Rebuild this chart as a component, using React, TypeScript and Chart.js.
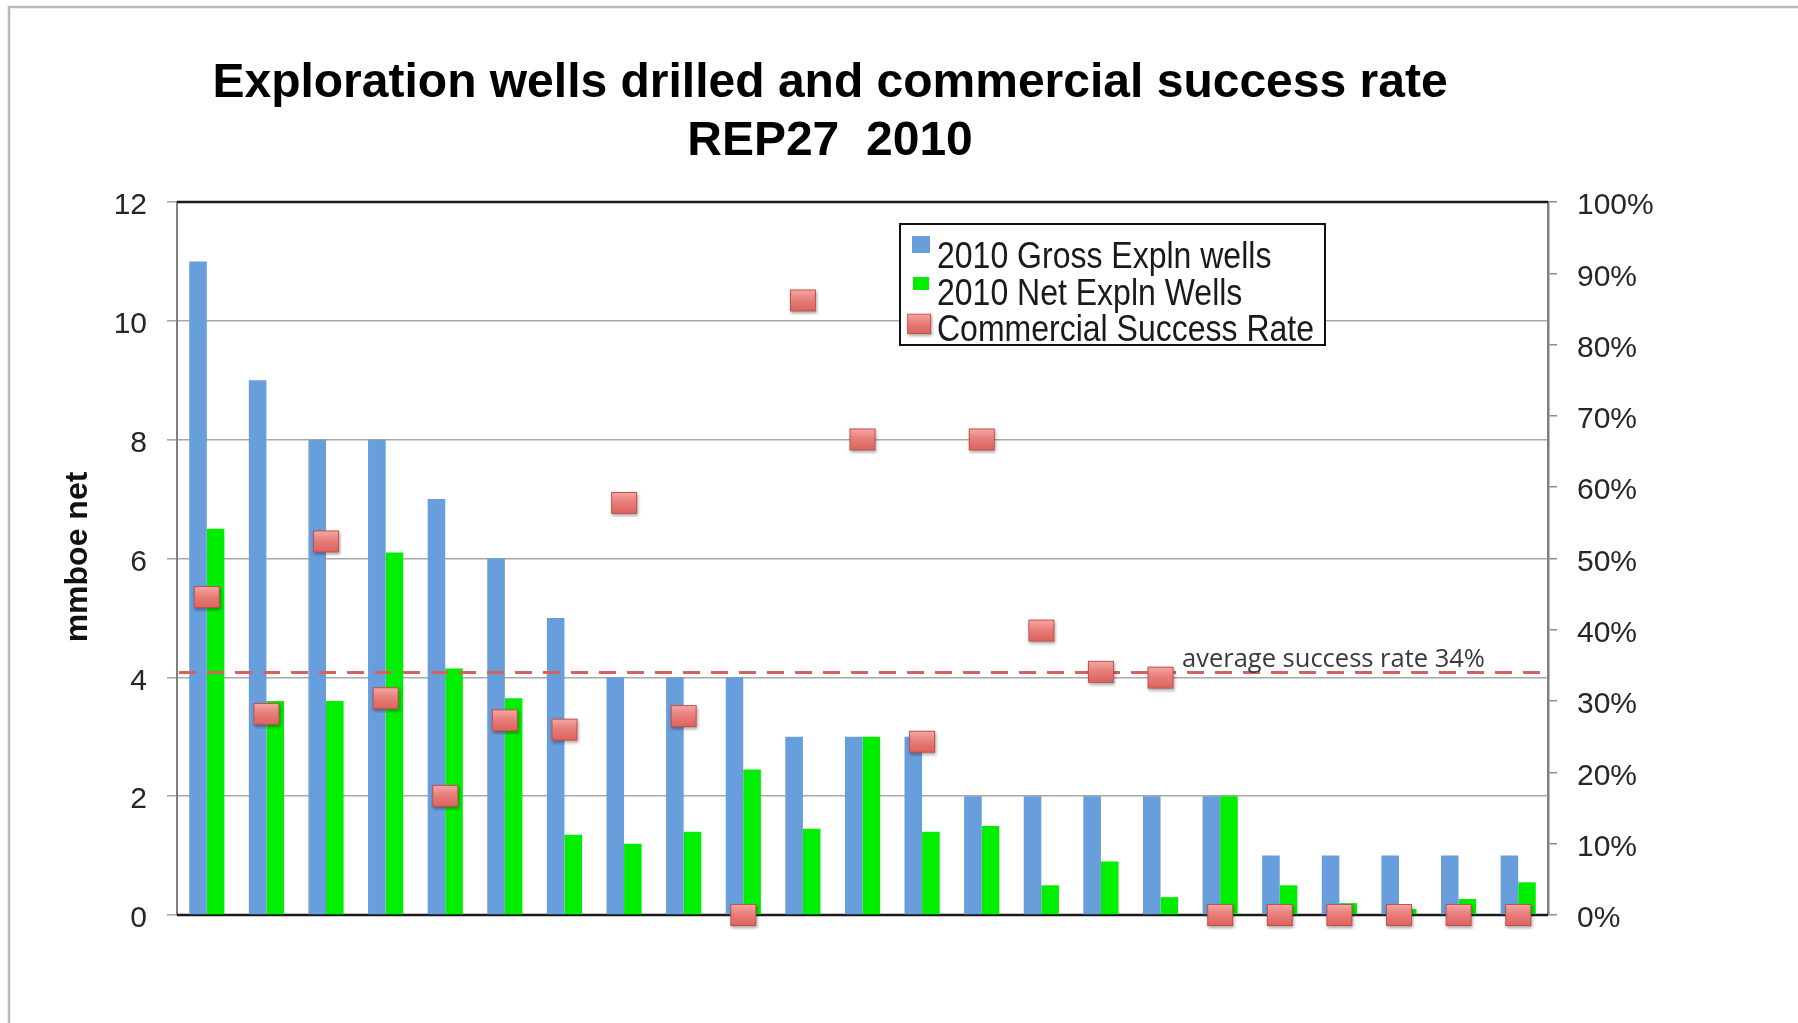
import React, { useEffect, useRef } from 'react';
import { Chart, registerables } from 'chart.js';

Chart.register(...registerables);

const TITLE_LINES = ['Exploration wells drilled and commercial success rate', 'REP27  2010'];
const Y_TITLE = 'mmboe net';
const SERIES_NAMES = ['2010 Gross Expln wells', '2010 Net Expln Wells', 'Commercial Success Rate'];
const CATEGORIES = ['1', '2', '3', '4', '5', '6', '7', '8', '9', '10', '11', '12', '13', '14', '15', '16', '17', '18', '19', '20', '21', '22', '23'];
const GROSS_WELLS = [11, 9, 8, 8, 7, 6, 5, 4, 4, 4, 3, 3, 3, 2, 2, 2, 2, 2, 1, 1, 1, 1, 1];
const NET_WELLS = [6.5, 3.6, 3.6, 6.1, 4.15, 3.65, 1.35, 1.2, 1.4, 2.45, 1.45, 3.0, 1.4, 1.5, 0.5, 0.9, 0.3, 2.0, 0.5, 0.2, 0.1, 0.27, 0.55];
const SUCCESS_RATE = [44.6, 28.2, 52.4, 30.4, 16.7, 27.3, 26.0, 57.8, 27.9, 0, 86.2, 66.7, 24.3, 66.7, 39.9, 34.1, 33.3, 0, 0, 0, 0, 0, 0];
const AVERAGE_RATE = 34;
const AVERAGE_LABEL = 'average success rate 34%';
const LEFT_MIN = 0;
const LEFT_MAX = 12;
const LEFT_STEP = 2;
const RIGHT_MIN = 0;
const RIGHT_MAX = 100;
const RIGHT_STEP = 10;

const BLUE = '#679edb';
const GREEN = '#00ee00';
const FONT = '"Liberation Sans", Arial, sans-serif';

function makeMarker(w: number, h: number): HTMLCanvasElement {
  const pad = 4;
  const c = document.createElement('canvas');
  c.width = w + pad * 2;
  c.height = h + pad * 2;
  const ctx = c.getContext('2d')!;
  ctx.shadowColor = 'rgba(0,0,0,0.35)';
  ctx.shadowBlur = 3;
  ctx.shadowOffsetX = 1;
  ctx.shadowOffsetY = 2;
  const g = ctx.createLinearGradient(0, pad, 0, pad + h);
  g.addColorStop(0, '#f6aaa7');
  g.addColorStop(0.45, '#e87f7b');
  g.addColorStop(1, '#dc625e');
  ctx.fillStyle = g;
  ctx.fillRect(pad, pad, w, h);
  ctx.shadowColor = 'transparent';
  ctx.strokeStyle = '#c24f4b';
  ctx.lineWidth = 1;
  ctx.strokeRect(pad + 0.5, pad + 0.5, w - 1, h - 1);
  return c;
}

export default function App() {
  const ref = useRef<HTMLCanvasElement | null>(null);

  useEffect(() => {
    const canvas = ref.current;
    if (!canvas) return;
    const marker = makeMarker(26, 22);

    const decor = {
      id: 'decor',
      beforeDraw(chart: any) {
        const ctx = chart.ctx;
        ctx.save();
        ctx.fillStyle = '#ffffff';
        ctx.fillRect(0, 0, chart.width, chart.height);
        ctx.strokeStyle = '#b8b8b8';
        ctx.lineWidth = 2.5;
        ctx.beginPath();
        ctx.moveTo(9, chart.height);
        ctx.lineTo(9, 7);
        ctx.lineTo(chart.width, 7);
        ctx.stroke();
        ctx.restore();
      },
      beforeDatasetsDraw(chart: any) {
        const { ctx, chartArea } = chart;
        ctx.save();
        ctx.strokeStyle = '#1a1a1a';
        ctx.lineWidth = 2.5;
        ctx.beginPath();
        ctx.moveTo(chartArea.left, chartArea.top);
        ctx.lineTo(chartArea.right, chartArea.top);
        ctx.moveTo(chartArea.left, chartArea.bottom);
        ctx.lineTo(chartArea.right, chartArea.bottom);
        ctx.stroke();
        ctx.restore();
      },
      beforeDatasetDraw(chart: any, args: any) {
        if (args.index !== 2) return;
        const { ctx, chartArea } = chart;
        const y = chart.scales.y1.getPixelForValue(AVERAGE_RATE);
        ctx.save();
        ctx.strokeStyle = '#d6625e';
        ctx.lineWidth = 3;
        ctx.setLineDash([17, 11]);
        ctx.beginPath();
        ctx.moveTo(chartArea.left + 2, y);
        ctx.lineTo(chartArea.right - 4, y);
        ctx.stroke();
        ctx.setLineDash([]);
        ctx.fillStyle = '#3a3a3a';
        ctx.font = '25.5px "Open Sans", sans-serif';
        ctx.textAlign = 'left';
        ctx.textBaseline = 'alphabetic';
        ctx.fillText(AVERAGE_LABEL, 1182, y - 6);
        ctx.restore();
      },
      afterDraw(chart: any) {
        const ctx = chart.ctx;
        ctx.save();
        // Title
        ctx.fillStyle = '#000';
        ctx.font = `bold 48px ${FONT}`;
        ctx.textAlign = 'center';
        ctx.textBaseline = 'alphabetic';
        ctx.fillText(TITLE_LINES[0], 830, 97);
        ctx.fillText(TITLE_LINES[1], 830, 155);
        // Y axis title
        ctx.save();
        ctx.translate(87, 557);
        ctx.rotate(-Math.PI / 2);
        ctx.font = `bold 32px ${FONT}`;
        ctx.fillStyle = '#111';
        ctx.textAlign = 'center';
        ctx.fillText(Y_TITLE, 0, 0);
        ctx.restore();
        // Legend
        const bx = 900, by = 224, bw = 425, bh = 121;
        ctx.fillStyle = '#fff';
        ctx.fillRect(bx, by, bw, bh);
        ctx.strokeStyle = '#111';
        ctx.lineWidth = 2;
        ctx.strokeRect(bx, by, bw, bh);
        const ds = chart.data.datasets;
        const baselines = [268, 305, 341];
        ctx.font = `32px ${FONT}`;
        ctx.textAlign = 'left';
        ds.forEach((d: any, i: number) => {
          const base = baselines[i];
          if (d.type === 'bar') {
            ctx.fillStyle = d.backgroundColor;
            if (i === 0) ctx.fillRect(912, base - 32, 18, 17);
            else ctx.fillRect(913, base - 28, 16, 13);
          } else {
            ctx.drawImage(marker, 920 - marker.width / 2 + 0.5, base - 16 - marker.height / 2, marker.width * 0.92, marker.height * 0.92);
          }
          ctx.save();
          ctx.translate(937, base);
          ctx.scale(1, 1.17);
          ctx.fillStyle = '#1a1a1a';
          ctx.fillText(d.label, 0, 0);
          ctx.restore();
        });
        ctx.restore();
      },
    };

    const tickFont = { family: FONT, size: 30 };

    const chart = new Chart(canvas, {
      type: 'bar',
      data: {
        labels: CATEGORIES,
        datasets: [
          {
            type: 'bar',
            label: SERIES_NAMES[0],
            data: GROSS_WELLS,
            backgroundColor: BLUE,
            yAxisID: 'y',
            order: 1,
            categoryPercentage: 0.59,
            barPercentage: 1,
          },
          {
            type: 'bar',
            label: SERIES_NAMES[1],
            data: NET_WELLS,
            backgroundColor: GREEN,
            yAxisID: 'y',
            order: 1,
            categoryPercentage: 0.59,
            barPercentage: 1,
          },
          {
            type: 'line',
            label: SERIES_NAMES[2],
            data: SUCCESS_RATE,
            yAxisID: 'y1',
            showLine: false,
            pointStyle: marker,
            pointRadius: 13,
            order: 0,
            clip: false,
          } as any,
        ],
      },
      options: {
        responsive: false,
        animation: false,
        events: [],
        layout: { padding: { top: 202, bottom: 108, left: 0, right: 0 } },
        plugins: {
          legend: { display: false },
          title: { display: false },
          tooltip: { enabled: false },
        },
        scales: {
          x: { display: false, offset: true, grid: { display: false } },
          y: {
            position: 'left',
            min: LEFT_MIN,
            max: LEFT_MAX,
            ticks: { stepSize: LEFT_STEP, font: tickFont, color: '#262626', padding: 20, labelOffset: 4 },
            grid: { color: '#a8a8a8', lineWidth: 1.6, tickLength: 10 },
            border: { color: '#7f7f7f', width: 2 },
            afterFit: (s: any) => { s.width = 177; },
          },
          y1: {
            position: 'right',
            min: RIGHT_MIN,
            max: RIGHT_MAX,
            ticks: {
              stepSize: RIGHT_STEP,
              font: tickFont,
              color: '#262626',
              padding: 20,
              labelOffset: 4,
              callback: (v: any) => `${v}%`,
            },
            grid: { drawOnChartArea: false, color: '#8a8a8a', lineWidth: 1.5, tickLength: 9 },
            border: { color: '#7f7f7f', width: 2.5 },
            afterFit: (s: any) => { s.width = 250; },
          },
        },
      } as any,
      plugins: [decor],
    });

    return () => chart.destroy();
  }, []);

  return (
    <div style={{ position: 'absolute', left: 0, top: 0, width: 1798, height: 1023, background: '#fff' }}>
      <canvas ref={ref} width={1798} height={1023} style={{ display: 'block' }} />
    </div>
  );
}
